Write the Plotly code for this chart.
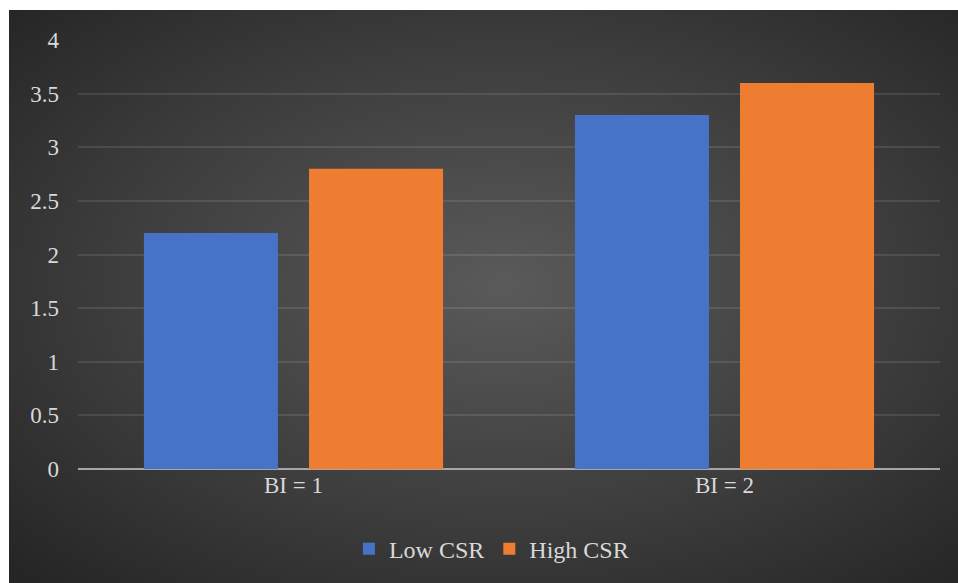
import base64
import plotly.graph_objects as go

categories = ["BI = 1", "BI = 2"]
low_csr = [2.2, 3.3]
high_csr = [2.8, 3.6]
y_ticks = [0, 0.5, 1, 1.5, 2, 2.5, 3, 3.5, 4]
y_tick_labels = ["0", "0.5", "1", "1.5", "2", "2.5", "3", "3.5", "4"]

FONT = "Liberation Serif"
TXT = "#d9d9d9"

svg = (
    '<svg xmlns="http://www.w3.org/2000/svg" width="949" height="573" viewBox="0 0 949 573" preserveAspectRatio="none">'
    '<defs><radialGradient id="g" cx="52%" cy="48%" r="72%">'
    '<stop offset="0" stop-color="#5a5a5a"/>'
    '<stop offset="0.55" stop-color="#3e3e3e"/>'
    '<stop offset="1" stop-color="#252525"/>'
    '</radialGradient></defs>'
    '<rect width="949" height="573" fill="url(#g)"/></svg>'
)
bg_uri = "data:image/svg+xml;base64," + base64.b64encode(svg.encode()).decode()

fig = go.Figure()
fig.add_trace(go.Bar(name="Low CSR", x=categories, y=low_csr,
                     marker=dict(color="#4673C6", line=dict(width=0))))
fig.add_trace(go.Bar(name="High CSR", x=categories, y=high_csr,
                     marker=dict(color="#EE7D32", line=dict(width=0))))

L, R, T, B = 78, 18, 40, 114
W, H = 958, 583
pw, ph = W - L - R, H - T - B

fig.update_layout(
    width=W, height=H,
    margin=dict(l=L, r=R, t=T, b=B),
    paper_bgcolor="white",
    plot_bgcolor="rgba(0,0,0,0)",
    barmode="group",
    bargap=0.234,
    bargroupgap=0.188,
    font=dict(family=FONT, size=23, color=TXT),
    showlegend=True,
    legend=dict(orientation="h", xref="container", yref="container",
                x=0.513, y=0.058, xanchor="center", yanchor="middle",
                font=dict(family=FONT, size=24, color=TXT),
                bgcolor="rgba(0,0,0,0)", itemwidth=30, traceorder="normal"),
    images=[dict(source=bg_uri, xref="paper", yref="paper",
                 x=(9 - L) / pw, y=(H - B - 10) / ph,
                 sizex=(W - 9) / pw, sizey=(H - 10) / ph,
                 xanchor="left", yanchor="top", sizing="stretch",
                 layer="below")],
    xaxis=dict(showgrid=False, showline=False, ticks="",
               tickfont=dict(family=FONT, size=23, color=TXT)),
    yaxis=dict(range=[0, 4], tickvals=y_ticks, ticktext=y_tick_labels,
               showgrid=True, gridcolor="rgba(255,255,255,0.1)", gridwidth=1.5,
               zeroline=True, zerolinecolor="#a6a6a6", zerolinewidth=2,
               showline=False, ticks="", ticklabelstandoff=18,
               tickfont=dict(family=FONT, size=23, color=TXT)),
)

fig.write_html("out.html")
